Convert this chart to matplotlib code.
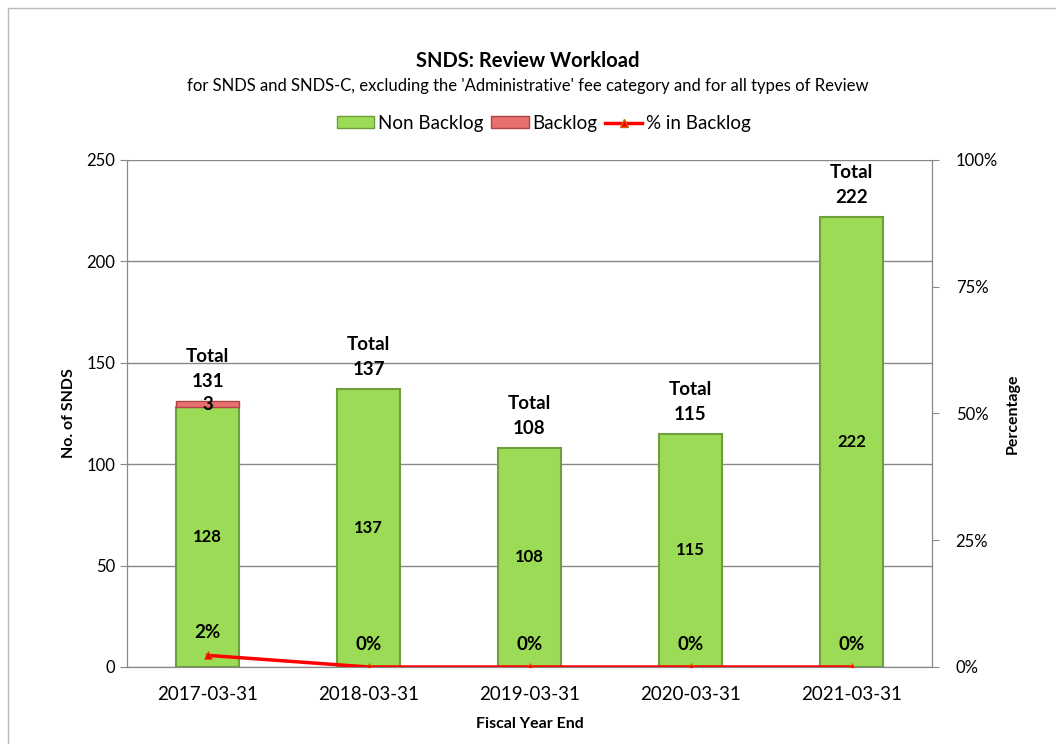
import matplotlib
matplotlib.use("Agg")
import matplotlib.pyplot as plt
from matplotlib.patches import Rectangle
from matplotlib.lines import Line2D
import numpy as np

plt.rcParams['font.family'] = ['Lato', 'DejaVu Sans']

categories = ["2017-03-31", "2018-03-31", "2019-03-31", "2020-03-31", "2021-03-31"]
non_backlog = [128, 137, 108, 115, 222]
backlog = [3, 0, 0, 0, 0]
pct_backlog = [2.3, 0, 0, 0, 0]
pct_labels = ["2%", "0%", "0%", "0%", "0%"]

green = "#9BDB55"
green_edge = "#6F9E3C"
red = "#E8706F"
red_edge = "#B04444"

fig = plt.figure(figsize=(10.56, 7.44), dpi=100)
ax = fig.add_axes([0.1203, 0.1035, 0.7623, 0.6815])
x = np.arange(len(categories))
w = 0.39

ax.bar(x, non_backlog, w, color=green, edgecolor=green_edge, linewidth=1.5, zorder=3, label="Non Backlog")
bl = np.array(backlog, dtype=float)
mask = bl > 0
ax.bar(x[mask], bl[mask], w, bottom=np.array(non_backlog)[mask], color=red, edgecolor=red_edge,
       linewidth=1.0, zorder=3, label="Backlog")

ax.set_xlim(-0.5, len(categories) - 0.5)
ax.set_ylim(0, 250)
ax.set_yticks([0, 50, 100, 150, 200, 250])
ax.set_xticks(x)
ax.set_xticklabels(categories, fontsize=13.5)
ax.tick_params(axis='y', labelsize=12, length=5, color="#888888")
ax.tick_params(axis='x', length=0, pad=14)
ax.yaxis.grid(True, color="#888888", linewidth=1.0, zorder=0)
ax.set_axisbelow(True)
ax.spines["top"].set_visible(False)
for s in ["left", "right", "bottom"]:
    ax.spines[s].set_color("#888888")
ax.set_ylabel("No. of SNDS", fontsize=11.5, fontweight="bold")
ax.yaxis.set_label_coords(-0.063, 0.5)
ax.set_xlabel("Fiscal Year End", fontsize=11.5, fontweight="bold", labelpad=10)

# segment labels
for i in range(len(categories)):
    ax.text(x[i], non_backlog[i] / 2, str(non_backlog[i]), ha="center", va="center",
            fontsize=12, fontweight="bold", zorder=6)
    if backlog[i] > 0:
        ax.text(x[i], non_backlog[i] + backlog[i] / 2, str(backlog[i]), ha="center", va="center",
                fontsize=13.5, fontweight="bold", zorder=6)
    total = non_backlog[i] + backlog[i]
    ax.annotate("Total\n" + str(total), (x[i], total), xytext=(0, 8), textcoords="offset points",
                ha="center", va="bottom", fontsize=13.5, fontweight="bold", linespacing=1.55, zorder=6)

ax2 = ax.twinx()
ax2.set_position(ax.get_position())
ax2.set_ylim(0, 100)
ax2.set_yticks([0, 25, 50, 75, 100])
ax2.set_yticklabels(["0%", "25%", "50%", "75%", "100%"])
ax2.tick_params(axis='y', labelsize=12, length=5, color="#888888", pad=12)
ax2.spines["top"].set_visible(False)
for s in ["left", "right", "bottom"]:
    ax2.spines[s].set_color("#888888")
ax2.set_ylabel("Percentage", fontsize=11.5, fontweight="bold", labelpad=6)
ax2.plot(x, pct_backlog, color="#FF0000", linewidth=2.5, marker="^", markersize=6,
         markerfacecolor="#FF0000", markeredgecolor="#CC6600", markeredgewidth=0.5, zorder=5,
         label="% in Backlog")
for i in range(len(categories)):
    ax2.annotate(pct_labels[i], (x[i], pct_backlog[i]), xytext=(0, 10), textcoords="offset points",
                 ha="center", va="bottom", fontsize=13.5, fontweight="bold", zorder=6)

fig.text(0.5, 0.918, "SNDS: Review Workload", ha="center", va="center", fontsize=14.5, fontweight="bold")
fig.text(0.5, 0.884, "for SNDS and SNDS-C, excluding the 'Administrative' fee category and for all types of Review",
         ha="center", va="center", fontsize=12)

handles = [Rectangle((0, 0), 1, 1, facecolor=green, edgecolor=green_edge),
           Rectangle((0, 0), 1, 1, facecolor=red, edgecolor=red_edge),
           Line2D([], [], color="#FF0000", linewidth=2.5, marker="^", markersize=6,
                  markerfacecolor="#FF0000", markeredgecolor="#CC6600")]
fig.legend(handles, ["Non Backlog", "Backlog", "% in Backlog"], loc="center", bbox_to_anchor=(0.515, 0.834),
           ncol=3, frameon=False, fontsize=13.5, handlelength=2.0, handleheight=0.6, columnspacing=0.4,
           handletextpad=0.2)

fig.add_artist(Rectangle((0.0076, -0.01), 1.0, 1.0 - 0.0109 + 0.01, transform=fig.transFigure,
                         fill=False, edgecolor="#BBBBBB", linewidth=1.0))

fig.savefig("out.png", dpi=100)
